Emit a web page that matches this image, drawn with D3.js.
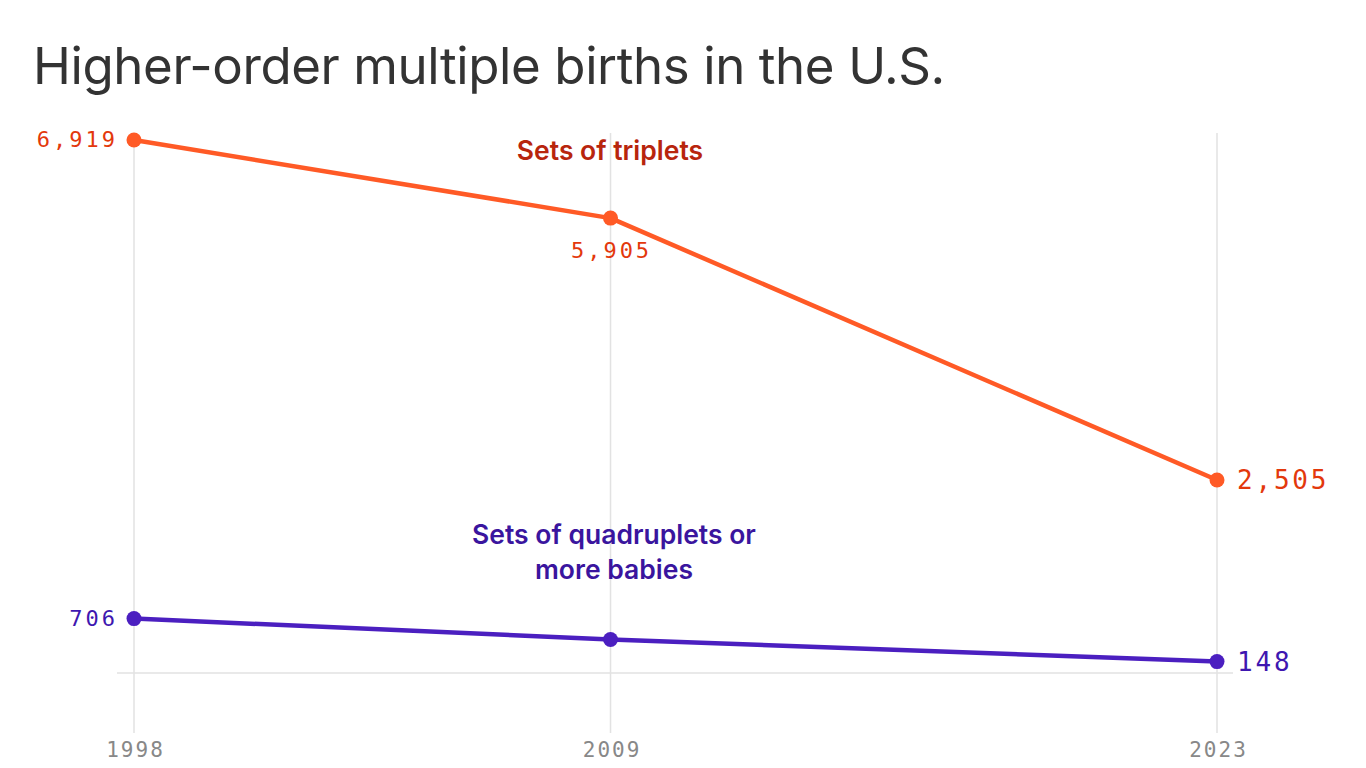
<!DOCTYPE html>
<html><head><meta charset="utf-8">
<script src="https://cdn.jsdelivr.net/npm/d3@7"></script>
<style>html,body{margin:0;padding:0;background:#fff;}</style>
</head><body>
<svg id="c" width="1366" height="768"></svg>
<script>
const years = [1998, 2009, 2023];
const triplets = [6919, 5905, 2505];
const quadruplets = [706, 435, 148];
const yearLabels = ["1998", "2009", "2023"];
const title = "Higher-order multiple births in the U.S.";

const svg = d3.select("#c");
const x = d3.scaleLinear().domain([1998, 2023]).range([134, 1217]);
const y = d3.scaleLinear().domain([0, 6919]).range([673, 140]);
const mono = "'DejaVu Sans Mono', monospace";
const sans = "Inter, 'Noto Sans', sans-serif";

svg.append("text").attr("x", 33).attr("y", 84)
  .attr("font-family", sans).attr("font-size", 51).attr("fill", "#333")
  .attr("letter-spacing", -0.4).text(title);

// vertical grid
svg.append("g").selectAll("line").data(years).join("line")
  .attr("x1", d => x(d)).attr("x2", d => x(d))
  .attr("y1", 133).attr("y2", 733)
  .attr("stroke", "#e2e2e2").attr("stroke-width", 1.5);
// baseline
svg.append("line").attr("x1", 117).attr("x2", 1233)
  .attr("y1", y(0)).attr("y2", y(0)).attr("stroke", "#e2e2e2").attr("stroke-width", 1.5);

// x axis labels
const xAxis = d3.axisBottom(x).tickValues(years).tickFormat((d, i) => yearLabels[i]).tickSize(0).tickPadding(0);
const gx = svg.append("g").attr("transform", "translate(1,742)").call(xAxis);
gx.select(".domain").remove();
gx.selectAll("text").attr("font-family", mono).attr("font-size", 21).attr("fill", "#888")
  .attr("letter-spacing", 2).attr("dy", "0.71em");

function series(vals, color) {
  const pts = years.map((yr, i) => [yr, vals[i]]);
  svg.append("path").datum(pts)
    .attr("d", d3.line().x(d => x(d[0])).y(d => y(d[1])))
    .attr("fill", "none").attr("stroke", color).attr("stroke-width", 4.5).attr("stroke-linejoin", "round");
  svg.append("g").selectAll("circle").data(pts).join("circle")
    .attr("cx", d => x(d[0])).attr("cy", d => y(d[1])).attr("r", 7.5).attr("fill", color);
}
series(triplets, "#ff5a26");
series(quadruplets, "#4b1fc0");

const fmt = d3.format(",");
const tCol = "#e3380c", qCol = "#3e17b0";
function lbl(xp, yp, anchor, size, ls, col, txt) {
  svg.append("text").attr("x", xp).attr("y", yp).attr("text-anchor", anchor)
    .attr("font-family", mono).attr("font-size", size).attr("letter-spacing", ls)
    .attr("fill", col).text(txt);
}
lbl(x(years[0]) - 16, y(triplets[0]) + 7, "end", 22, 3, tCol, fmt(triplets[0]));
lbl(x(years[1]) + 1, y(triplets[1]) + 40, "middle", 22, 3, tCol, fmt(triplets[1]));
lbl(x(years[2]) + 20, y(triplets[2]) + 9, "start", 26, 2.8, tCol, fmt(triplets[2]));
lbl(x(years[0]) - 16, y(quadruplets[0]) + 7, "end", 22, 3, qCol, fmt(quadruplets[0]));
lbl(x(years[2]) + 20, y(quadruplets[2]) + 9, "start", 26, 2.8, qCol, fmt(quadruplets[2]));

// series labels
svg.append("text").attr("x", 610).attr("y", 160).attr("text-anchor", "middle")
  .attr("font-family", sans).attr("font-weight", 600).attr("font-size", 26.5).attr("fill", "#b8250d")
  .text("Sets of triplets");
const ql = svg.append("text").attr("x", 614).attr("y", 544).attr("text-anchor", "middle")
  .attr("font-family", sans).attr("font-weight", 600).attr("font-size", 26.5).attr("fill", "#3a159e");
ql.append("tspan").attr("x", 614).attr("dy", 0).text("Sets of quadruplets or");
ql.append("tspan").attr("x", 614).attr("dy", 35).text("more babies");
</script>
</body></html>
